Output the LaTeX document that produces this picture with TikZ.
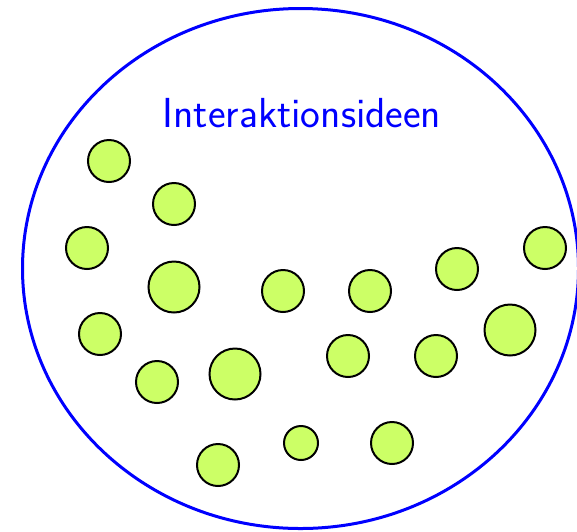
\documentclass[tikz,border=0pt]{standalone}
\usepackage{xcolor}
\definecolor{ideagreen}{RGB}{204,255,102}
\tikzset{
  idea/.style={circle, draw=black, line width=2pt, fill=ideagreen, inner sep=0pt, minimum size=42pt},
  bigidea/.style={idea, minimum size=51pt},
  smallidea/.style={idea, minimum size=34pt},
}
\begin{document}
\begin{tikzpicture}[x=1pt,y=-1pt]
        \useasboundingbox (0,0) rectangle (577,531);
        \draw [color=blue, line width=3pt] (300.5,268.5) ellipse [x radius=278, y radius=260];
        \node [color=blue, font=\sffamily\fontsize{42}{48}\selectfont] (title) at (302,113) {Interaktionsideen};
        \node [idea] (i1) at (109,161) {};
        \node [idea] (i2) at (174,204) {};
        \node [idea] (i3) at (87,248) {};
        \node [bigidea] (i4) at (174,287) {};
        \node [idea] (i5) at (100,334) {};
        \node [idea] (i6) at (157,382) {};
        \node [bigidea] (i7) at (235,374) {};
        \node [idea] (i8) at (283,291) {};
        \node [idea] (i9) at (370,291) {};
        \node [idea] (i10) at (457,269) {};
        \node [idea] (i11) at (545,248) {};
        \node [bigidea] (i12) at (510,330) {};
        \node [idea] (i13) at (436,356) {};
        \node [idea] (i14) at (348,356) {};
        \node [idea] (i15) at (392,443) {};
        \node [smallidea] (i16) at (301,443) {};
        \node [idea] (i17) at (218,465) {};
\end{tikzpicture}
\end{document}
